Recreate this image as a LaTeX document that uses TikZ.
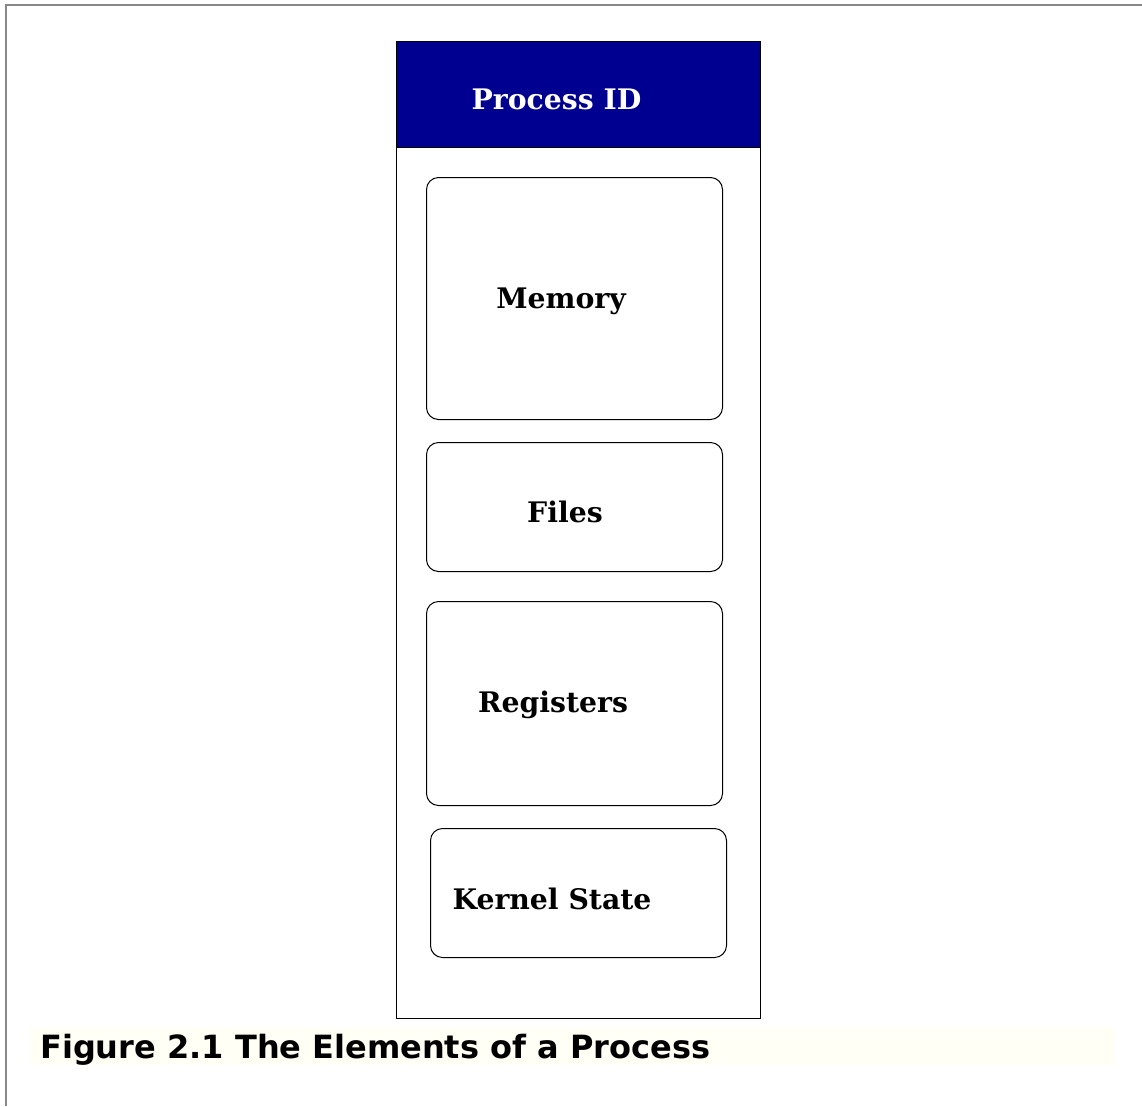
\documentclass[tikz,border=0pt]{standalone}
\usepackage{fontspec}
\newfontfamily\dserif{DejaVu Serif}
\newfontfamily\dsans{DejaVu Sans}
\definecolor{hdrblue}{RGB}{0,0,144}
\definecolor{capbg}{RGB}{255,255,245}
\definecolor{framegray}{RGB}{136,136,136}
\tikzset{
  box/.style={draw=black, line width=1pt, rounded corners=12pt, inner sep=0pt},
  lbl/.style={font=\dserif\bfseries\fontsize{28.3}{32}\selectfont, inner sep=0pt, anchor=center},
}
\begin{document}
\begin{tikzpicture}[x=1pt,y=-1pt]
\useasboundingbox (0,0) rectangle (1142,1106);
% frame
\draw[framegray, line width=2pt] (6,1106) -- (6,5) -- (1142,5);
% caption background
\fill[capbg] (30,1027) rectangle (1115,1065);
% outer process box
\draw[line width=1pt] (396,41) rectangle (760,1018);
\node[fill=hdrblue, draw=black, line width=1pt, minimum width=364pt, minimum height=106pt, inner sep=0pt, anchor=north west] (hdr) at (396,41) {};
\node[lbl, text=white] (pid) at (556.5,99.5) {Process ID};
% inner boxes
\node[box, minimum width=296pt, minimum height=242pt, anchor=north west] (mem) at (426,177) {};
\node[lbl] (memt) at (561,301) {Memory};
\node[box, minimum width=296pt, minimum height=129pt, anchor=north west] (files) at (426,442) {};
\node[lbl] (filest) at (565,512) {Files};
\node[box, minimum width=296pt, minimum height=204pt, anchor=north west] (reg) at (426,601) {};
\node[lbl] (regt) at (553,705) {Registers};
\node[box, minimum width=296pt, minimum height=129pt, anchor=north west] (kern) at (430,828) {};
\node[lbl] (kernt) at (552,899) {Kernel State};
% caption
\node[font=\dsans\bfseries\fontsize{32}{36}\selectfont, inner sep=0pt, anchor=west] (cap) at (40,1050) {Figure 2.1 The Elements of a Process};
\end{tikzpicture}
\end{document}
